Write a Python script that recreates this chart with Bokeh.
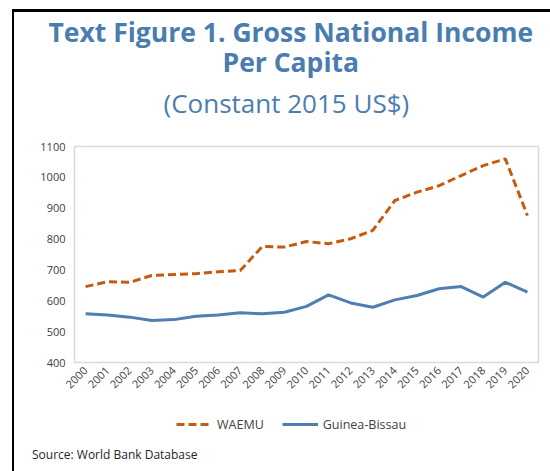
import math
from bokeh.plotting import figure
from bokeh.layouts import column
from bokeh.models import (Legend, LegendItem, FactorRange, Range1d, FixedTicker, Title, Div)
from bokeh.embed import file_html
from bokeh.resources import INLINE

years = [str(y) for y in range(2000, 2021)]
waemu = [646, 662, 660, 682, 685, 688, 694, 698, 776, 774, 792, 785, 801, 828,
         925, 952, 973, 1006, 1038, 1060, 876]
guinea_bissau = [558, 554, 547, 536, 539, 550, 554, 561, 558, 563, 582, 619, 593,
                 579, 603, 617, 639, 646, 612, 660, 628]
y_ticks = [400, 500, 600, 700, 800, 900, 1000, 1100]
series_names = ["WAEMU", "Guinea-Bissau"]

title_line1 = "Text Figure 1. Gross National Income"
title_line2 = "Per Capita"
subtitle = "(Constant 2015 US$)"
source = "Source: World Bank Database"

TITLE_COLOR = "#4a7daf"
ORANGE = "#c55a11"
BLUE = "#4e7fae"
FONT = "Open Sans"
NAN = float("nan")
LEFT_LINE = "inset 12px 0 0 0 white, inset 14px 0 0 0 black"

# ---------------- main chart ----------------
p = figure(width=550, height=400, x_range=FactorRange(*years),
           y_range=Range1d(400, 1100), output_backend="svg", toolbar_location=None,
           title=None, min_border_left=74, min_border_right=12, min_border_top=146,
           min_border_bottom=38)
p.border_fill_alpha = 0
p.styles = {"box-shadow": "inset 12px 9px 0 0 white, inset 14px 12px 0 0 black"}
p.outline_line_color = "#d9d9d9"
p.outline_line_width = 1.5
p.xgrid.grid_line_color = None
p.ygrid.grid_line_color = None

p.yaxis.ticker = FixedTicker(ticks=y_ticks)
for ax in (p.xaxis[0], p.yaxis[0]):
    ax.axis_line_color = None
    ax.major_tick_line_color = None
    ax.minor_tick_line_color = None
    ax.major_tick_out = 0
    ax.major_label_text_font = FONT
    ax.major_label_text_font_size = "11px"
    ax.major_label_text_color = "#404040"
p.yaxis.major_label_standoff = 9
p.xaxis.major_label_orientation = math.pi / 4
p.xaxis.major_label_standoff = 6

p.line(years, waemu, line_color=ORANGE, line_width=3, line_dash="8 4")
p.line(years, guinea_bissau, line_color=BLUE, line_width=3)

# titles above the plot (first added = closest to the plot)
p.add_layout(Title(text=subtitle, align="left", offset=89, text_font=FONT,
                   text_font_style="normal", text_font_size="26px",
                   text_color=TITLE_COLOR, standoff=52), "above")
p.add_layout(Title(text=title_line2, align="left", offset=148, text_font=FONT,
                   text_font_style="bold", text_font_size="26.5px",
                   text_color=TITLE_COLOR, standoff=-47), "above")
p.add_layout(Title(text=title_line1, align="left", offset=-26, text_font=FONT,
                   text_font_style="bold", text_font_size="26.5px",
                   text_color=TITLE_COLOR, standoff=13), "above")

# ---------------- legend strip ----------------
p2 = figure(width=550, height=40, x_range=Range1d(74, 538), y_range=Range1d(40, 0),
            output_backend="svg", toolbar_location=None, title=None,
            x_axis_location=None, y_axis_location=None, min_border=0,
            min_border_left=74, min_border_right=12)
p2.border_fill_alpha = 0
p2.background_fill_alpha = 0
p2.outline_line_color = None
p2.xgrid.grid_line_color = None
p2.ygrid.grid_line_color = None

k1 = p2.line([NAN], [NAN], line_color=ORANGE, line_width=3, line_dash="8 4")
k2 = p2.line([NAN], [NAN], line_color=BLUE, line_width=3)
legend = Legend(items=[LegendItem(label=series_names[0], renderers=[k1]),
                       LegendItem(label=series_names[1], renderers=[k2])],
                orientation="horizontal", location=(102, 6),
                border_line_color=None, background_fill_alpha=0,
                label_text_font=FONT, label_text_font_size="12.5px",
                label_text_color="#404040", glyph_width=36, label_standoff=5,
                spacing=18, padding=0, margin=0)
p2.add_layout(legend, "center")

# ---------------- source note ----------------
note = Div(text=f'<div style="padding-left:27px;padding-top:1px;font-family:\'{FONT}\';'
                f'font-size:12px;color:#262626;white-space:nowrap">{source}</div>',
           width=550, height=31)

layout = column(p, p2, note, spacing=0)
layout.styles = {"box-shadow": LEFT_LINE}
open("out.html", "w").write(file_html(layout, INLINE))
